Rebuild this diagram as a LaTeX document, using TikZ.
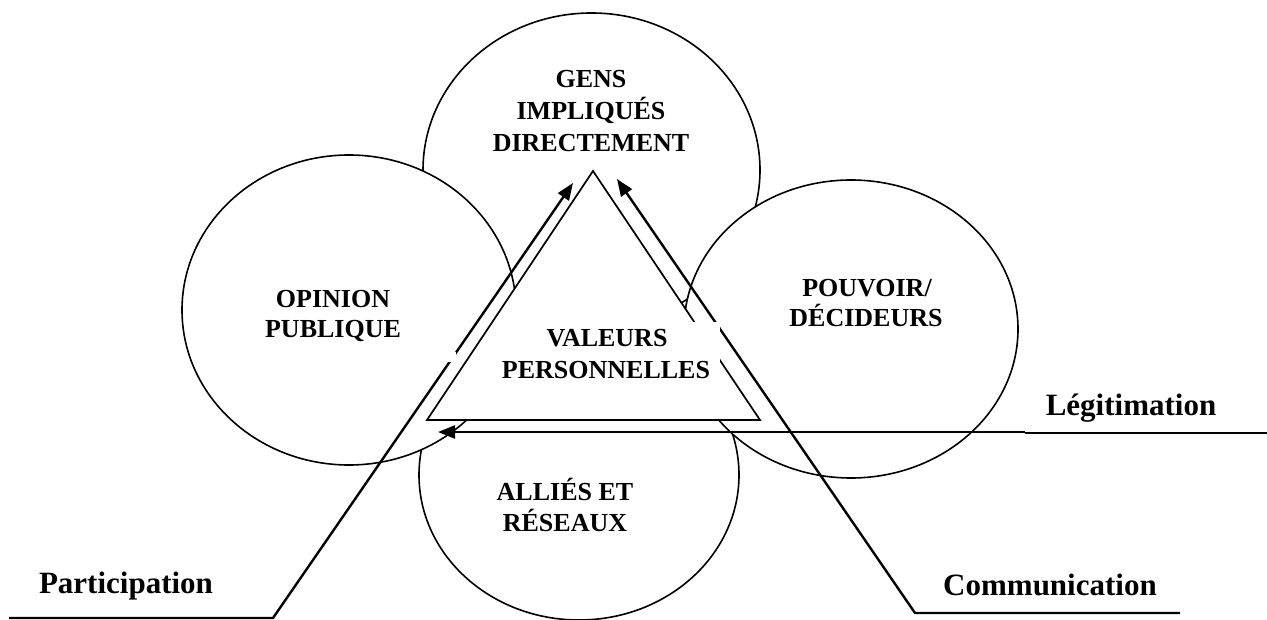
\documentclass[tikz,border=0pt]{standalone}
\usepackage{fontspec}
\setmainfont{Liberation Serif}
\usetikzlibrary{shapes.geometric,arrows.meta}

\tikzset{
  disc/.style={ellipse, draw, fill=white, line width=1.6pt, inner sep=0pt, outer sep=0pt},
  circtext/.style={anchor=base, inner sep=0pt, font=\fontsize{26}{31}\selectfont\bfseries},
  flowtext/.style={anchor=base, inner sep=0pt, font=\fontsize{31}{36}\selectfont\bfseries},
  flow/.style={line width=2.4pt, -{Triangle[length=17pt,width=13pt]}},
  thinrule/.style={line width=1.5pt},
  mask/.style={fill=white, draw=none}
}

\begin{document}
\begin{tikzpicture}[x=1pt, y=-1pt]
  \useasboundingbox (0,0) rectangle (1267,620);

  % the four spheres of influence
  \node[disc, minimum width=320pt, minimum height=290pt] (allies) at (579,475) {};
  \node[disc, minimum width=337pt, minimum height=314pt] (gens) at (591.5,170) {};
  \node[disc, minimum width=334pt, minimum height=310pt] (opinion) at (349,310) {};
  \node[disc, minimum width=334pt, minimum height=298pt] (pouvoir) at (851,329) {};

  % central triangle of personal values
  \coordinate (apex) at (593,171);
  \coordinate (baseL) at (427,420);
  \coordinate (baseR) at (760,420);
  \draw[fill=white, line width=1.7pt, line join=miter] (baseL) -- (apex) -- (baseR) -- cycle;

  % flows towards the centre
  \coordinate (partStart) at (9,618);
  \coordinate (partBend) at (273,618);
  \coordinate (partTip) at (573,183);
  \coordinate (comStart) at (1180,613);
  \coordinate (comBend) at (915,613);
  \coordinate (comTip) at (617,179);
  \coordinate (legStart) at (1025,432);
  \coordinate (legTip) at (438,432);
  \coordinate (legEnd) at (1267,433);

  \draw[flow] (partStart) -- (partBend) -- (partTip);
  \draw[flow] (comStart) -- (comBend) -- (comTip);
  \draw[flow] (legStart) -- (legTip);
  \draw[thinrule] (legStart |- legEnd) -- (legEnd);

  % white backgrounds of the text frames
  \fill[mask] (500,322) rectangle (720,392);
  \fill[mask] (446,352) rectangle (456,362);

  % labels
  \node[circtext] (g1) at (591,88) {GENS};
  \node[circtext] (g2) at (591,120) {IMPLIQUÉS};
  \node[circtext] (g3) at (591,152) {DIRECTEMENT};

  \node[circtext] (o1) at (333,308) {OPINION};
  \node[circtext] (o2) at (333,338) {PUBLIQUE};

  \node[circtext] (p1) at (867,297) {POUVOIR/};
  \node[circtext] (p2) at (866,327) {DÉCIDEURS};

  \node[circtext] (v1) at (607,347) {VALEURS};
  \node[circtext] (v2) at (606,378) {PERSONNELLES};

  \node[circtext] (a1) at (565,500) {ALLIÉS ET};
  \node[circtext] (a2) at (565,531) {RÉSEAUX};

  \node[flowtext] (lp) at (126,593) {Participation};
  \node[flowtext] (lc) at (1050,595) {Communication};
  \node[flowtext] (ll) at (1131,415) {Légitimation};
\end{tikzpicture}
\end{document}
